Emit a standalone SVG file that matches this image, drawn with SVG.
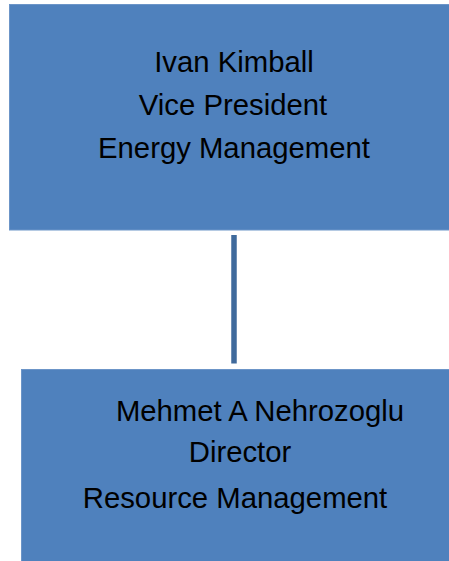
<svg xmlns="http://www.w3.org/2000/svg" width="449" height="561" viewBox="0 0 449 561">
<style>
.box{fill:#4F81BD;stroke:#6C95C8;stroke-width:1}
.t{font-family:"Liberation Sans",Arial,sans-serif;font-size:29.3px;fill:#000;text-anchor:middle}
.conn{stroke:#3F6A9C;stroke-width:5.5;fill:none}
</style>
<rect width="449" height="561" fill="#fff"/>
<g id="connectors">
<line class="conn" x1="234" y1="235" x2="234" y2="363.5"/>
</g>
<g id="node-vp">
<rect class="box" x="9.5" y="4.5" width="445" height="225.5"/>
<text class="t" x="234" y="72">Ivan Kimball</text>
<text class="t" x="233" y="115">Vice President</text>
<text class="t" x="234" y="158">Energy Management</text>
</g>
<g id="node-director">
<rect class="box" x="21.5" y="369.5" width="433" height="197"/>
<text class="t" x="260" y="421">Mehmet A Nehrozoglu</text>
<text class="t" x="240" y="462">Director</text>
<text class="t" x="235" y="508">Resource Management</text>
</g>
</svg>
